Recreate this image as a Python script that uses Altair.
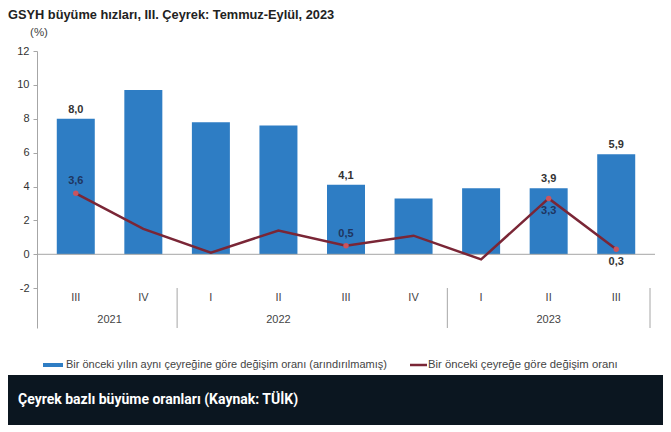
import altair as alt
import pandas as pd

quarters = ["III", "IV", "I", "II", "III", "IV", "I", "II", "III"]
years = ["2021", "2022", "2023"]
year_centers = [0.5, 3.0, 7.0]
separators = [1.5, 5.5, 8.5]
annual = [8.0, 9.7, 7.8, 7.6, 4.1, 3.3, 3.9, 3.9, 5.9]
annual_labels = ["8,0", "", "", "", "4,1", "", "", "3,9", "5,9"]
quarterly = [3.6, 1.5, 0.1, 1.4, 0.5, 1.1, -0.3, 3.3, 0.3]
quarterly_labels = ["3,6", "", "", "", "0,5", "", "", "3,3", "0,3"]
quarterly_label_pos = ["above", "", "", "", "above", "", "", "below", "below"]
y_ticks = [-2, 0, 2, 4, 6, 8, 10, 12]

title_text = "GSYH büyüme hızları, III. Çeyrek: Temmuz-Eylül, 2023"
unit_text = "(%)"
legend_bar = "Bir önceki yılın aynı çeyreğine göre değişim oranı (arındırılmamış)"
legend_line = "Bir önceki çeyreğe göre değişim oranı"
banner_text = "Çeyrek bazlı büyüme oranları (Kaynak: TÜİK)"

FONT = "Liberation Sans"
BAR = "#2E7DC4"
LINE = "#7A2636"
MARK = "#C9545E"

df = pd.DataFrame({
    "i": list(range(len(quarters))),
    "q": quarters,
    "annual": annual,
    "alabel": annual_labels,
    "quarterly": quarterly,
    "qlabel": quarterly_labels,
    "qpos": quarterly_label_pos,
})
ydf = pd.DataFrame({"x": year_centers, "year": years})
sdf = pd.DataFrame({"x": separators})

xs = alt.Scale(domain=[-0.5, 8.5], nice=False, zero=False)
ys = alt.Scale(domain=[-4.35, 12], nice=False, zero=False)
X = alt.X("i:Q", scale=xs, axis=None)

yaxis = alt.Axis(values=y_ticks, grid=False, title=None, domainColor="#A6A6A6",
                 tickColor="#A6A6A6", tickSize=4, labelPadding=4, labelFontSize=11,
                 labelColor="#333333", labelFont=FONT, domainWidth=1,
                 labelOverlap=False, labelExpr="toString(datum.value)")


def Y(field):
    return alt.Y(field, scale=ys, axis=yaxis, title=None)


base = alt.Chart(df)

bars = base.mark_bar(color=BAR, size=38).encode(x=X, y=Y("annual:Q"))

zero = alt.Chart(pd.DataFrame({"y": [0]})).mark_rule(color="#A6A6A6", strokeWidth=1).encode(
    y=Y("y:Q"), x=alt.value(0), x2=alt.value(618)
)

line = base.mark_line(color=LINE, strokeWidth=2.5).encode(x=X, y=Y("quarterly:Q"))

points = base.transform_filter(alt.datum.qlabel != "").mark_circle(
    color=MARK, size=30, opacity=1
).encode(x=X, y=Y("quarterly:Q"))

bar_labels = base.transform_filter(alt.datum.alabel != "").mark_text(
    baseline="bottom", dy=-4, font=FONT, fontSize=11, fontWeight="bold", color="#333333"
).encode(x=X, y=Y("annual:Q"), text="alabel:N")

q_above = base.transform_filter(alt.datum.qpos == "above").mark_text(
    baseline="bottom", dy=-7, font=FONT, fontSize=11, fontWeight="bold", color="#1F3560"
).encode(x=X, y=Y("quarterly:Q"), text="qlabel:N")

q_below = base.transform_filter(alt.datum.qpos == "below").mark_text(
    baseline="top", dy=7, font=FONT, fontSize=11, fontWeight="bold"
).encode(
    x=X, y=Y("quarterly:Q"), text="qlabel:N",
    color=alt.Color("q:N", scale=alt.Scale(domain=["II", "III"], range=["#1F3560", "#333333"]), legend=None),
)

qlabels = base.mark_text(font=FONT, fontSize=11, color="#444444", baseline="middle").encode(
    x=X, y=alt.value(247), text="q:N"
)

ylabels = alt.Chart(ydf).mark_text(font=FONT, fontSize=11, color="#444444", baseline="middle").encode(
    x=alt.X("x:Q", scale=xs, axis=None), y=alt.value(269), text="year:N"
)

seps = alt.Chart(sdf).mark_rule(color="#A6A6A6", strokeWidth=1).encode(
    x=alt.X("x:Q", scale=xs, axis=None), y=alt.value(237), y2=alt.value(277)
)

title = alt.Chart(pd.DataFrame({"t": [title_text]})).mark_text(
    font=FONT, fontSize=12.8, fontWeight="bold", color="#222222", align="left", baseline="middle"
).encode(x=alt.value(-29), y=alt.value(-36), text="t:N")

unit = alt.Chart(pd.DataFrame({"t": [unit_text]})).mark_text(
    font=FONT, fontSize=11.5, color="#444444", align="center", baseline="middle"
).encode(x=alt.value(2), y=alt.value(-18), text="t:N")

leg_rect = alt.Chart(pd.DataFrame({"a": [1]})).mark_rect(color=BAR).encode(
    x=alt.value(6), x2=alt.value(26), y=alt.value(312), y2=alt.value(316)
)
leg_rule = alt.Chart(pd.DataFrame({"a": [1]})).mark_rule(color=LINE, strokeWidth=2.5).encode(
    x=alt.value(373), x2=alt.value(390), y=alt.value(314)
)
leg_t1 = alt.Chart(pd.DataFrame({"t": [legend_bar]})).mark_text(
    font=FONT, fontSize=11, color="#444444", align="left", baseline="middle"
).encode(x=alt.value(29), y=alt.value(314), text="t:N")
leg_t2 = alt.Chart(pd.DataFrame({"t": [legend_line]})).mark_text(
    font=FONT, fontSize=11.3, color="#444444", align="left", baseline="middle"
).encode(x=alt.value(391), y=alt.value(314), text="t:N")

banner = alt.Chart(pd.DataFrame({"a": [1]})).mark_rect(color="#0B1620").encode(
    x=alt.value(-29), x2=alt.value(626), y=alt.value(324), y2=alt.value(374)
)
banner_t = alt.Chart(pd.DataFrame({"t": [banner_text]})).mark_text(
    font="Roboto", fontSize=14, fontWeight="bold", color="#FFFFFF", align="left", baseline="middle"
).encode(x=alt.value(-19), y=alt.value(349), text="t:N")

chart = alt.layer(
    bars, zero, line, points, bar_labels, q_above, q_below, qlabels, ylabels, seps,
    title, unit, leg_rect, leg_rule, leg_t1, leg_t2, banner, banner_t
).properties(
    width=618, height=277,
    autosize=alt.AutoSizeParams(type="none"),
    padding={"left": 29, "top": 43, "right": 8, "bottom": 97},
    background="white",
).configure_view(stroke=None)

chart.save("out.html", embed_options={"renderer": "svg", "actions": False})
